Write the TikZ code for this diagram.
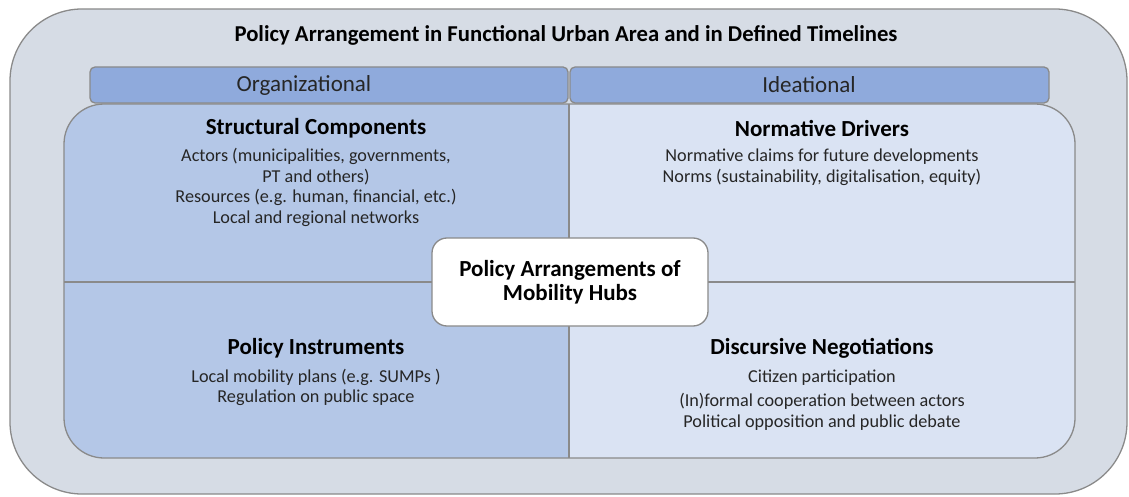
\documentclass[tikz,border=0pt]{standalone}
\usepackage{fontspec}
\setmainfont{Carlito}
\definecolor{outerfill}{HTML}{D6DCE5}
\definecolor{headfill}{HTML}{8FAADC}
\definecolor{orgfill}{HTML}{B4C7E7}
\definecolor{ideafill}{HTML}{DAE3F3}
\definecolor{edge}{HTML}{8A8A8A}
\definecolor{bodytext}{HTML}{262626}
\begin{document}
\begin{tikzpicture}[x=1pt,y=-1pt,
  frame/.style={draw=edge,line width=1.3pt},
  maintitle/.style={inner sep=0pt,font=\fontsize{22.7}{26}\selectfont\bfseries},
  headtext/.style={inner sep=0pt,font=\fontsize{23}{27}\selectfont,text=bodytext},
  quadhead/.style={inner sep=0pt,font=\fontsize{23}{24}\selectfont\bfseries},
  quadbody/.style={inner sep=0pt,font=\fontsize{18.2}{20.5}\selectfont,text=bodytext,align=center},
]
\useasboundingbox (0,0) rectangle (1129,497);

% outer frame
\draw[frame,fill=outerfill,rounded corners=72pt] (10,9) rectangle (1127,494);
\node[maintitle] (title) at (566,35) {Policy Arrangement in Functional Urban Area and in Defined Timelines};

% column headers
\draw[frame,fill=headfill,rounded corners=5pt] (90,67) rectangle (568,103);
\draw[frame,fill=headfill,rounded corners=5pt] (570,67) rectangle (1049,103);
\node[headtext] (org) at (304,85) {Organizational};
\node[headtext] (idea) at (809,85) {Ideational};

% four quadrants
\begin{scope}
  \clip[rounded corners=40pt] (64,104) rectangle (1075,458);
  \fill[orgfill] (64,104) rectangle (569,458);
  \fill[ideafill] (569,104) rectangle (1075,458);
\end{scope}
\draw[frame,rounded corners=40pt] (64,104) rectangle (1075,458);
\draw[frame] (569,104) -- (569,458);
\draw[frame] (64,282) -- (1075,282);

% quadrant texts
\node[quadhead] (sc) at (316,128) {Structural Components};
\node[quadbody] (scb) at (316,187.5) {Actors (municipalities, governments,\\PT and others)\\Resources (e.g. human, financial, etc.)\\Local and regional networks};

\node[quadhead] (nd) at (822,128) {Normative Drivers};
\node[quadbody] (ndb) at (822,167) {Normative claims for future developments\\Norms (sustainability, digitalisation, equity)};

\node[quadhead] (pi) at (316,348) {Policy Instruments};
\node[quadbody] (pib) at (316,387.5) {Local mobility plans (e.g. SUMPs )\\Regulation on public space};

\node[quadhead] (dn) at (822,348) {Discursive Negotiations};
\node[quadbody] (dnb) at (822,400) {Citizen participation\\[4pt](In)formal cooperation between actors\\Political opposition and public debate};

% central box
\node[frame,fill=white,rounded corners=15pt,minimum width=276pt,minimum height=88pt,
      align=center,font=\fontsize{23}{24}\selectfont\bfseries] (hub) at (570,282)
      {Policy Arrangements of\\Mobility Hubs};
\end{tikzpicture}
\end{document}
